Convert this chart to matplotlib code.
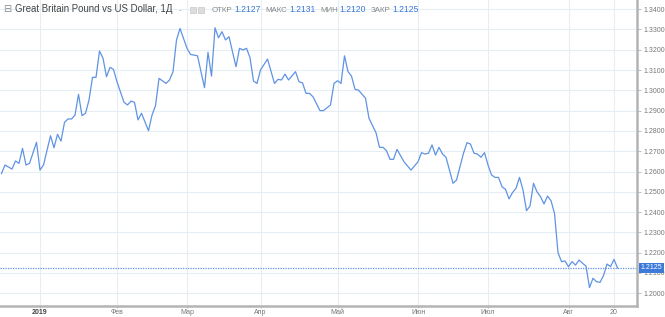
import matplotlib
matplotlib.use("Agg")
import matplotlib.pyplot as plt
import matplotlib.transforms as mtransforms

# trading-day number counted from 2 Jan 2019, and close of GBP/USD
days = [-11, -10, -8, -7, -6, -5, -4, -3, -1, 0, 1, 3, 4, 5, 6, 7, 8, 9, 10, 11,
        12, 13, 14, 15, 16, 17, 18, 19, 20, 21, 22, 24, 25, 26, 27, 28, 29, 31, 32, 33,
        34, 36, 37, 38, 39, 40, 42, 43, 45, 47, 48, 49, 50, 51, 52, 53, 54, 56, 57, 58,
        59, 60, 61, 62, 63, 65, 67, 68, 69, 70, 71, 73, 74, 75, 76, 77, 78, 80, 81, 83,
        84, 85, 86, 87, 88, 89, 90, 91, 93, 94, 96, 97, 98, 99, 100, 101, 102, 104, 106, 108,
        109, 110, 111, 112, 113, 114, 115, 116, 118, 119, 121, 122, 123, 124, 125, 126, 127, 128, 129, 130,
        131, 132, 133, 134, 135, 136, 137, 138, 139, 140, 141, 142, 143, 144, 145, 146, 147, 148, 149, 150,
        151, 152, 153, 154, 155, 156, 157, 158, 159, 160, 161, 162, 163, 164, 165]
close = [1.2590, 1.2632, 1.2612, 1.2652, 1.2640, 1.2714, 1.2632, 1.2640, 1.2744, 1.2607,
         1.2632, 1.2776, 1.2717, 1.2783, 1.2750, 1.2842, 1.2859, 1.2859, 1.2878, 1.2980,
         1.2875, 1.2887, 1.2952, 1.3064, 1.3064, 1.3194, 1.3158, 1.3067, 1.3113, 1.3103,
         1.3042, 1.2941, 1.2928, 1.2947, 1.2941, 1.2854, 1.2887, 1.2801, 1.2878, 1.2924,
         1.3059, 1.3034, 1.3051, 1.3092, 1.3248, 1.3305, 1.3207, 1.3177, 1.3170, 1.3013,
         1.3187, 1.3070, 1.3308, 1.3259, 1.3289, 1.3248, 1.3264, 1.3116, 1.3207, 1.3199,
         1.3207, 1.3161, 1.3046, 1.3034, 1.3100, 1.3154, 1.3034, 1.3054, 1.3051, 1.3080,
         1.3051, 1.3092, 1.3042, 1.3037, 1.2985, 1.2985, 1.2968, 1.2900, 1.2900, 1.2928,
         1.3034, 1.3047, 1.3034, 1.3170, 1.3092, 1.3070, 1.3005, 1.3001, 1.2961, 1.2862,
         1.2791, 1.2719, 1.2719, 1.2702, 1.2660, 1.2660, 1.2709, 1.2648, 1.2607, 1.2648,
         1.2693, 1.2686, 1.2690, 1.2731, 1.2681, 1.2719, 1.2686, 1.2670, 1.2542, 1.2558,
         1.2690, 1.2742, 1.2735, 1.2690, 1.2686, 1.2670, 1.2693, 1.2632, 1.2583, 1.2571,
         1.2571, 1.2525, 1.2512, 1.2465, 1.2496, 1.2517, 1.2571, 1.2509, 1.2407, 1.2430,
         1.2542, 1.2500, 1.2476, 1.2440, 1.2479, 1.2456, 1.2394, 1.2200, 1.2156, 1.2159,
         1.2131, 1.2156, 1.2139, 1.2164, 1.2148, 1.2134, 1.2028, 1.2074, 1.2057, 1.2054,
         1.2087, 1.2144, 1.2131, 1.2167, 1.2125]

month_days = [0, 22, 42, 63, 85, 108, 128, 151, 164]
month_labels = ['2019', 'Фев', 'Мар', 'Апр', 'Май', 'Июн', 'Июл', 'Авг', '20']
price_ticks = [1.20, 1.21, 1.22, 1.23, 1.24, 1.25, 1.26, 1.27, 1.28, 1.29,
               1.30, 1.31, 1.32, 1.33, 1.34]
last = 1.2125
ohlc_names = ['ОТКР', 'МАКС', 'МИН', 'ЗАКР']
ohlc_values = ['1.2127', '1.2131', '1.2120', '1.2125']

plt.rcParams['font.family'] = ['Liberation Sans', 'DejaVu Sans']

line_col = '#5f93e4'
grid_col = '#e6edf5'
axis_col = '#b4b4b4'
text_col = '#777777'

fig = plt.figure(figsize=(6.65, 3.17), dpi=100)
ax = fig.add_axes([0, 11/317, 637/665, 306/317])

ax.plot(days, close, color=line_col, lw=0.9, zorder=3)
ax.axhline(last, color=line_col, lw=0.9, ls=(0, (1, 1)), zorder=2)

ax.set_xlim(-11.43, 170.57)
ax.set_ylim(1.19374, 1.3445)

ax.set_xticks(month_days)
ax.set_xticklabels(month_labels)
ax.set_yticks(price_ticks)
ax.set_yticklabels(['%.4f' % v for v in price_ticks])

ax.yaxis.tick_right()
ax.tick_params(axis='y', direction='out', length=3, width=0.6, color=axis_col,
               labelsize=5, labelcolor=text_col, pad=2)
ax.tick_params(axis='x', direction='out', length=1.5, width=0.6, color=axis_col,
               labelsize=5, labelcolor=text_col, pad=0.8)
lbls = ax.get_xticklabels()
lbls[0].set_fontweight('bold')
lbls[0].set_color('#444444')

ax.grid(True, color=grid_col, lw=0.8, zorder=0)
for s in ['top', 'left']:
    ax.spines[s].set_visible(False)
for s in ['right', 'bottom']:
    ax.spines[s].set_color(axis_col)
    ax.spines[s].set_linewidth(1.8)

# last price marker on the price scale
trans = mtransforms.blended_transform_factory(ax.transAxes, ax.transData)
ax.text(1.006, last, '%.4f' % last, transform=trans, fontsize=5, color='white',
        va='center', ha='left', clip_on=False, zorder=5,
        bbox=dict(boxstyle='square,pad=0.25', fc='#3c7ad9', ec='none'))

# header (all on one baseline)
hy = 1 - 12/317
fig.text(3/665, hy, '⊟', fontsize=7, color='#888888', va='baseline',
         family=['DejaVu Sans'])
fig.text(15/665, hy, 'Great Britain Pound vs US Dollar, 1Д', fontsize=6.9,
         color='#444444', va='baseline')
fig.text(179/665, hy, '-', fontsize=6, color='#999999', va='baseline')
for xp in [190, 198]:
    fig.patches.append(plt.Rectangle((xp/665, 1 - 12.5/317), 6/665, 6/317,
                                     transform=fig.transFigure, fc='#dddddd',
                                     ec='#c8c8c8', lw=0.5))

# OHLC readout, laid out one after another
renderer = fig.canvas.get_renderer()
xp = 212
for nm, val in zip(ohlc_names, ohlc_values):
    t = fig.text(xp/665, hy, nm, fontsize=5.7, color='#888888', va='baseline')
    xp += t.get_window_extent(renderer).width + 2
    t = fig.text(xp/665, hy, val, fontsize=6.2, color='#3a78d8', va='baseline')
    xp += t.get_window_extent(renderer).width + 4.5

fig.savefig('out.png', dpi=100, facecolor='white')
